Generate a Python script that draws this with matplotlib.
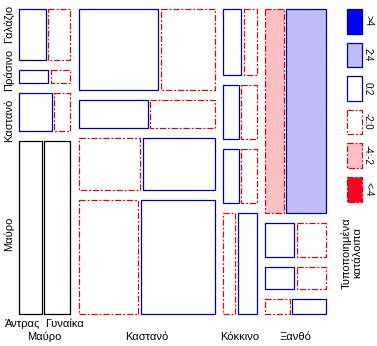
import numpy as np
import matplotlib.pyplot as plt
from matplotlib.patches import Rectangle

plt.rcParams['font.family'] = ['Liberation Sans', 'DejaVu Sans']

hair = ["Μαύρο", "Καστανό", "Κόκκινο", "Ξανθό"]
eye = ["Γαλάζιο", "Πράσινο", "Καστανό", "Μαύρο"]   # top to bottom
sex = ["Άντρας", "Γυναίκα"]

# counts per hair (rows) and eye (columns, top to bottom)
male = np.array([[11, 3, 10, 32],
                 [50, 15, 25, 53],
                 [10, 7, 7, 10],
                 [30, 8, 5, 3]])
female = np.array([[9, 2, 5, 36],
                   [34, 14, 29, 66],
                   [7, 7, 7, 16],
                   [64, 8, 5, 4]])

legend_labels = [">4", "2:4", "0:2", "-2:0", "-4:-2", "<-4"]

BLUE = "#0000FF"
LBLUE = "#BDBDF7"
RED = "#FF0022"
PINK = "#FFBFC4"
BLUE_EDGE = "#00009A"
RED_EDGE = "#C41010"
DASH = (0, (5, 1.5, 1.5, 1.5))

# standardized residuals of the [hair x eye][sex] model
tot = male + female
n = tot.sum()
p_m = male.sum() / n
res_m = (male - tot * p_m) / np.sqrt(tot * p_m)
res_f = (female - tot * (1 - p_m)) / np.sqrt(tot * (1 - p_m))


def cell_style(r):
    if round(r, 1) == 0:
        return dict(facecolor="white", edgecolor="black", linestyle="-")
    if r > 4:
        return dict(facecolor=BLUE, edgecolor=BLUE_EDGE, linestyle="-")
    if r > 2:
        return dict(facecolor=LBLUE, edgecolor=BLUE_EDGE, linestyle="-")
    if r > 0:
        return dict(facecolor="white", edgecolor=BLUE_EDGE, linestyle="-")
    if r > -2:
        return dict(facecolor="white", edgecolor=RED_EDGE, linestyle=DASH)
    if r > -4:
        return dict(facecolor=PINK, edgecolor=RED_EDGE, linestyle=DASH)
    return dict(facecolor=RED, edgecolor=RED_EDGE, linestyle=DASH)


fig = plt.figure(figsize=(3.77, 3.46), dpi=100)
ax = fig.add_axes([0, 0, 1, 1])
ax.set_xlim(0, 377)
ax.set_ylim(346, 0)
ax.axis("off")

X0, X1, Y0, Y1 = 19, 325.5, 9, 314
GX, GY, GS = 8.5, 10, 2.5
LW = 0.9

hair_tot = tot.sum(axis=1)
col_w = (X1 - X0 - GX * (len(hair) - 1)) * hair_tot / n
x = X0
for i in range(len(hair)):
    w = col_w[i]
    y = Y0
    for j in range(len(eye)):
        h = (Y1 - Y0 - GY * (len(eye) - 1)) * tot[i, j] / hair_tot[i]
        wm = (w - GS) * male[i, j] / tot[i, j]
        wf = w - GS - wm
        ax.add_patch(Rectangle((x, y), wm, h, lw=LW, **cell_style(res_m[i, j])))
        ax.add_patch(Rectangle((x + wm + GS, y), wf, h, lw=LW,
                               **cell_style(res_f[i, j])))
        if i == 0 and j == len(eye) - 1:
            split = x + wm + GS / 2
        y += h + GY
    ax.text(x + w / 2, 337, hair[i], ha="center", va="center", fontsize=8)
    x += w + GX

# sex labels under the first column
ax.text(split - 2.5, 324, sex[0], ha="right", va="center", fontsize=8)
ax.text(split + 1.5, 324, sex[1], ha="left", va="center", fontsize=8)

# eye labels on the left
for label, yc in zip(eye, [23.5, 70, 120, 234]):
    ax.text(9, yc, label, rotation=90, ha="center", va="center", fontsize=8)

# legend of residual classes
legend_styles = [cell_style(v) for v in [5, 3, 1, -1, -3, -5]]
for k, (lab, st) in enumerate(zip(legend_labels, legend_styles)):
    ly = 9 + k * 33.6
    ax.add_patch(Rectangle((346.5, ly), 15.5, 24.5, lw=LW, **st))
    ax.text(368, ly + 12, lab, rotation=-90, ha="center", va="center",
            fontsize=7)

ax.text(352, 253, "Τυποποιημένα\nκατάλοιπα", rotation=90, ha="center",
        va="center", multialignment="center", fontsize=8, linespacing=1.1)

fig.savefig("out.png", dpi=100)
